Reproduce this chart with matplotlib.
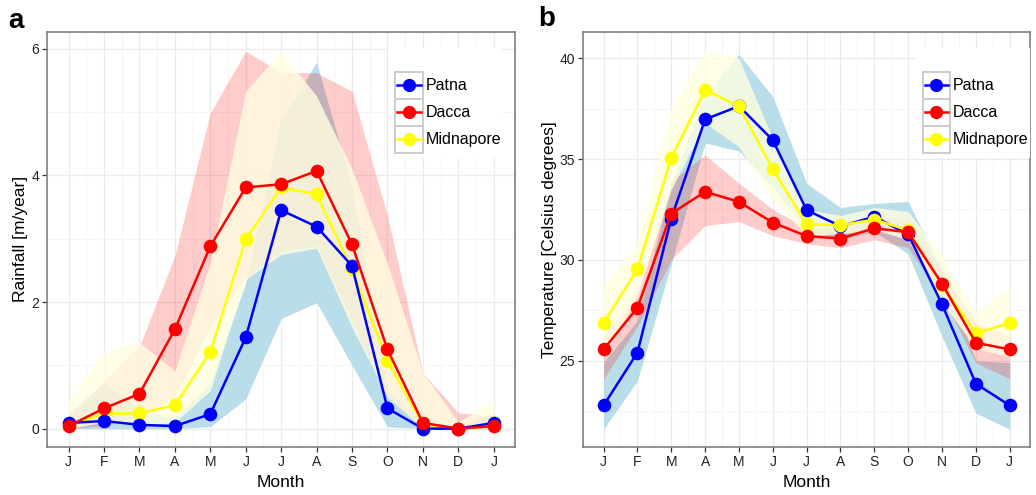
import matplotlib.pyplot as plt
from matplotlib.lines import Line2D
from matplotlib.patches import Rectangle
import numpy as np

plt.rcParams['font.family'] = ['Liberation Sans', 'DejaVu Sans']

MONTHS = ['J', 'F', 'M', 'A', 'M', 'J', 'J', 'A', 'S', 'O', 'N', 'D', 'J']
CITIES = ['Patna', 'Dacca', 'Midnapore']

# rainfall [m/year]: mean, lower, upper
rain_patna = [0.09, 0.12, 0.06, 0.04, 0.23, 1.44, 3.45, 3.19, 2.57, 0.32, 0.0, 0.0, 0.09]
rain_patna_lo = [0, 0, 0, 0, 0.03, 0.47, 1.74, 1.99, 1.0, 0.03, 0, 0, 0]
rain_patna_hi = [0.25, 0.72, 0.3, 0.17, 0.73, 2.3, 4.88, 5.79, 3.8, 0.6, 0.1, 0.02, 0.25]

rain_dacca = [0.04, 0.32, 0.55, 1.57, 2.88, 3.81, 3.86, 4.07, 2.91, 1.25, 0.09, 0.0, 0.04]
rain_dacca_lo = [0, 0.05, 0.2, 0.5, 1.6, 2.4, 2.8, 2.9, 1.7, 0.5, 0, 0, 0]
rain_dacca_hi = [0.2, 0.75, 1.3, 2.73, 4.99, 5.96, 5.63, 5.62, 5.33, 3.36, 0.88, 0.25, 0.2]

rain_midna = [0.05, 0.24, 0.24, 0.37, 1.21, 2.99, 3.81, 3.70, 2.52, 1.07, 0.07, 0.0, 0.04]
rain_midna_lo = [0, 0.1, 0.05, 0.1, 0.6, 2.36, 2.75, 2.85, 1.6, 0.5, 0, 0, 0]
rain_midna_hi = [0.45, 1.22, 1.36, 0.91, 2.62, 5.33, 5.96, 5.25, 4.1, 2.6, 0.88, 0.1, 0.45]

# temperature [Celsius degrees]: mean, lower, upper
temp_patna = [22.78, 25.40, 32.05, 36.97, 37.63, 35.94, 32.47, 31.67, 32.14, 31.27, 27.80, 23.86, 22.78]
temp_patna_lo = [21.6, 24.0, 29.8, 35.8, 35.4, 33.6, 31.5, 31.0, 31.4, 30.3, 26.2, 22.4, 21.6]
temp_patna_hi = [24.9, 27.0, 33.8, 38.2, 40.2, 38.1, 33.8, 32.6, 32.8, 32.9, 29.5, 25.0, 24.9]

temp_dacca = [25.56, 27.63, 32.30, 33.38, 32.88, 31.85, 31.18, 31.06, 31.57, 31.37, 28.82, 25.89, 25.56]
temp_dacca_lo = [24.1, 26.7, 30.0, 31.7, 31.9, 31.2, 30.8, 30.6, 31.0, 30.6, 28.2, 24.9, 24.1]
temp_dacca_hi = [26.2, 28.3, 33.9, 35.2, 33.8, 32.5, 31.6, 31.5, 32.2, 32.0, 29.5, 26.9, 26.2]

temp_midna = [26.87, 29.54, 35.07, 38.43, 37.63, 34.49, 31.77, 31.72, 32.00, 31.47, 28.74, 26.37, 26.87]
temp_midna_lo = [25.2, 28.2, 33.5, 36.8, 35.6, 33.0, 31.2, 31.3, 31.5, 31.0, 27.9, 25.6, 25.2]
temp_midna_hi = [28.7, 30.9, 37.5, 40.4, 40.0, 36.0, 32.5, 32.2, 32.6, 32.4, 30.2, 27.4, 28.7]

LINE_COLORS = {'Patna': 'blue', 'Dacca': 'red', 'Midnapore': 'yellow'}
RIBBONS = {'Patna': ('lightblue', 0.85), 'Dacca': ('red', 0.2), 'Midnapore': ('lightyellow', 0.8)}


def style_axes(ax, ylim, yticks, yminor, ylabel):
    x = np.arange(len(MONTHS))
    ax.set_xlim(-0.6, len(MONTHS) - 0.4)
    ax.set_ylim(*ylim)
    ax.set_xticks(x)
    ax.set_xticklabels(MONTHS)
    ax.set_xticks(x[:-1] + 0.5, minor=True)
    ax.set_yticks(yticks)
    ax.set_yticks(yminor, minor=True)
    ax.grid(True, which='major', color='#EBEBEB', lw=0.9, zorder=0)
    ax.grid(True, which='minor', color='#F4F4F4', lw=0.6, zorder=0)
    ax.set_axisbelow(True)
    ax.tick_params(which='major', length=3.5, width=0.9, color='#333333',
                   labelsize=10, labelcolor='#222222', pad=2.5)
    ax.tick_params(which='minor', length=0)
    for s in ax.spines.values():
        s.set_color('#7F7F7F')
        s.set_linewidth(1.2)
    ax.set_xlabel('Month', fontsize=12.5)
    ax.set_ylabel(ylabel, fontsize=12.5)
    ax.xaxis.labelpad = 4
    ax.yaxis.labelpad = 2


def draw_legend(ax, bg_x0, bg_x1, key_x0, key_w):
    ax.add_patch(Rectangle((bg_x0, 0.696), bg_x1 - bg_x0, 0.265, transform=ax.transAxes,
                           facecolor='white', edgecolor='none', zorder=5, clip_on=False))
    kh = 0.065
    top = 0.903
    for i, name in enumerate(CITIES):
        y0 = top - (i + 1) * kh
        ym = y0 + kh / 2
        ax.add_patch(Rectangle((key_x0, y0), key_w, kh, transform=ax.transAxes,
                               facecolor='white', edgecolor='#CCCCCC', lw=1.4, zorder=6))
        ax.add_line(Line2D([key_x0 + 0.004, key_x0 + key_w - 0.004], [ym, ym],
                           transform=ax.transAxes, color=LINE_COLORS[name], lw=1.8, zorder=7))
        ax.add_line(Line2D([key_x0 + key_w / 2], [ym], transform=ax.transAxes, ls='none',
                           marker='o', ms=9.5, mec='none', mfc=LINE_COLORS[name], zorder=8))
        ax.text(key_x0 + key_w + 0.006, ym, name, transform=ax.transAxes, va='center',
                ha='left', fontsize=11.5, color='black', zorder=8)


def panel(ax, data, line_order):
    x = np.arange(len(MONTHS))
    for name in CITIES:
        mean, lo, hi = data[name]
        col, a = RIBBONS[name]
        ax.fill_between(x, lo, hi, color=col, alpha=a, lw=0, zorder=2)
    z = 3
    for name in line_order:
        mean, lo, hi = data[name]
        ax.plot(x, mean, color=LINE_COLORS[name], lw=1.8, zorder=z)
        ax.plot(x, mean, ls='none', marker='o', ms=9.8, mec='none',
                mfc=LINE_COLORS[name], zorder=z + 0.5)
        z += 1


fig = plt.figure(figsize=(10.36, 4.95), dpi=100)
ax1 = fig.add_axes([0.0457, 0.097, 0.4514, 0.839])
ax2 = fig.add_axes([0.563, 0.097, 0.4312, 0.839])

rain = {'Patna': (rain_patna, rain_patna_lo, rain_patna_hi),
        'Dacca': (rain_dacca, rain_dacca_lo, rain_dacca_hi),
        'Midnapore': (rain_midna, rain_midna_lo, rain_midna_hi)}
temp = {'Patna': (temp_patna, temp_patna_lo, temp_patna_hi),
        'Dacca': (temp_dacca, temp_dacca_lo, temp_dacca_hi),
        'Midnapore': (temp_midna, temp_midna_lo, temp_midna_hi)}

panel(ax1, rain, ['Midnapore', 'Patna', 'Dacca'])
style_axes(ax1, (-0.29, 6.27), [0, 2, 4, 6], [1, 3, 5], 'Rainfall [m/year]')
draw_legend(ax1, 0.728, 0.972, 0.743, 0.060)

panel(ax2, temp, ['Patna', 'Midnapore', 'Dacca'])
style_axes(ax2, (20.72, 41.32), [25, 30, 35, 40], [22.5, 27.5, 32.5, 37.5],
           'Temperature [Celsius degrees]')
draw_legend(ax2, 0.747, 1.0, 0.760, 0.061)

fig.text(8 / 1036, 1 - 28 / 495, 'a', fontsize=20, fontweight='bold', va='baseline')
fig.text(538 / 1036, 1 - 26 / 495, 'b', fontsize=20, fontweight='bold', va='baseline')

fig.savefig('out.png', dpi=100)
